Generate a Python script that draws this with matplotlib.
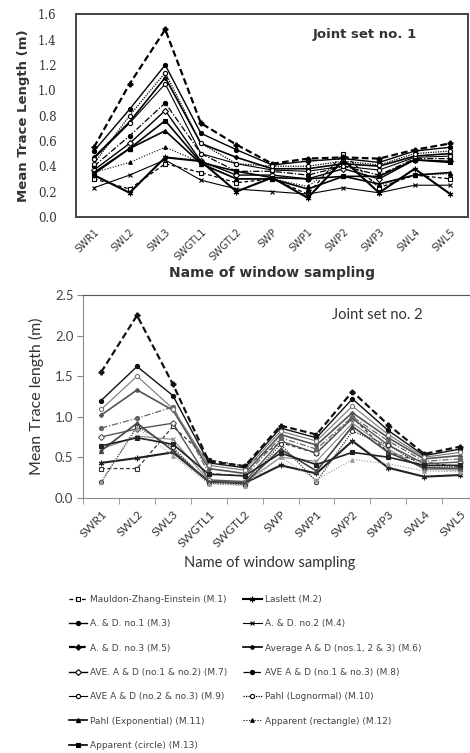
import numpy as np
import matplotlib
matplotlib.use("Agg")
import matplotlib.pyplot as plt
from matplotlib.lines import Line2D

# ---------- Datos ----------
windows = ["SWR1", "SWL2", "SWL3", "SWGTL1", "SWGTL2", "SWP", "SWP1",
           "SWP2", "SWP3", "SWL4", "SWL5"]

labels = ["Mauldon-Zhang-Einstein (M.1)", "Laslett (M.2)", "A. & D. no.1 (M.3)",
          "A. & D. no.2 (M.4)", "A. & D. no.3 (M.5)", "Average A & D (nos.1, 2 & 3) (M.6)",
          "AVE. A & D (no.1 & no.2) (M.7)", "AVE A & D (no.1 & no.3) (M.8)",
          "AVE A & D (no.2 & no.3) (M.9)", "Pahl (Lognormal) (M.10)",
          "Pahl (Exponential) (M.11)", "Apparent (rectangle) (M.12)",
          "Apparent (circle) (M.13)"]

# Joint set no. 1
set1_m1 = [0.30, 0.22, 0.42, 0.35, 0.27, 0.30, 0.18, 0.50, 0.23, 0.33, 0.30]
set1_m2 = [0.33, 0.19, 0.47, 0.44, 0.20, 0.31, 0.15, 0.45, 0.19, 0.38, 0.18]
set1_m3 = [0.52, 0.85, 1.20, 0.66, 0.53, 0.41, 0.44, 0.46, 0.43, 0.52, 0.55]
set1_m4 = [0.23, 0.33, 0.45, 0.29, 0.22, 0.20, 0.18, 0.23, 0.19, 0.25, 0.25]
set1_m5 = [0.55, 1.05, 1.48, 0.74, 0.57, 0.42, 0.46, 0.47, 0.46, 0.53, 0.58]
set1_m6 = [0.47, 0.75, 1.10, 0.58, 0.47, 0.38, 0.38, 0.42, 0.40, 0.48, 0.50]
set1_m7 = [0.37, 0.58, 0.84, 0.44, 0.33, 0.33, 0.30, 0.38, 0.30, 0.45, 0.44]
set1_m8 = [0.40, 0.64, 0.90, 0.50, 0.36, 0.36, 0.33, 0.40, 0.33, 0.46, 0.46]
set1_m9 = [0.46, 0.74, 1.05, 0.50, 0.42, 0.37, 0.36, 0.40, 0.37, 0.47, 0.48]
set1_m10 = [0.42, 0.80, 1.14, 0.58, 0.42, 0.40, 0.40, 0.44, 0.41, 0.50, 0.52]
set1_m11 = [0.34, 0.54, 0.68, 0.42, 0.30, 0.30, 0.22, 0.32, 0.26, 0.33, 0.35]
set1_m12 = [0.35, 0.43, 0.55, 0.43, 0.30, 0.30, 0.24, 0.44, 0.25, 0.33, 0.34]
set1_m13 = [0.35, 0.54, 0.76, 0.43, 0.36, 0.31, 0.30, 0.32, 0.32, 0.45, 0.43]

# Joint set no. 2
set2_m1 = [0.36, 0.36, 0.88, 0.47, 0.39, 0.68, 0.55, 0.99, 0.56, 0.44, 0.38]
set2_m2 = [0.43, 0.49, 0.56, 0.20, 0.18, 0.40, 0.30, 0.70, 0.37, 0.26, 0.28]
set2_m3 = [1.20, 1.62, 1.26, 0.43, 0.37, 0.86, 0.74, 1.22, 0.83, 0.52, 0.60]
set2_m4 = [0.60, 0.76, 0.72, 0.21, 0.19, 0.50, 0.45, 0.92, 0.60, 0.35, 0.34]
set2_m5 = [1.55, 2.25, 1.40, 0.45, 0.39, 0.89, 0.78, 1.31, 0.90, 0.54, 0.63]
set2_m6 = [1.02, 1.33, 1.08, 0.36, 0.30, 0.78, 0.65, 1.05, 0.74, 0.48, 0.52]
set2_m7 = [0.75, 0.85, 0.92, 0.22, 0.20, 0.70, 0.55, 0.98, 0.65, 0.42, 0.44]
set2_m8 = [0.86, 0.98, 1.12, 0.30, 0.27, 0.74, 0.60, 1.00, 0.70, 0.45, 0.48]
set2_m9 = [1.09, 1.50, 1.10, 0.40, 0.34, 0.82, 0.70, 1.13, 0.78, 0.50, 0.56]
set2_m10 = [0.19, 0.88, 0.62, 0.18, 0.16, 0.66, 0.20, 0.82, 0.65, 0.38, 0.38]
set2_m11 = [0.58, 0.92, 0.58, 0.20, 0.18, 0.60, 0.33, 0.88, 0.56, 0.37, 0.36]
set2_m12 = [0.19, 0.86, 0.52, 0.17, 0.15, 0.50, 0.22, 0.47, 0.42, 0.33, 0.32]
set2_m13 = [0.64, 0.74, 0.66, 0.29, 0.27, 0.55, 0.41, 0.56, 0.50, 0.40, 0.40]

set1 = [set1_m1, set1_m2, set1_m3, set1_m4, set1_m5, set1_m6, set1_m7,
        set1_m8, set1_m9, set1_m10, set1_m11, set1_m12, set1_m13]
set2 = [set2_m1, set2_m2, set2_m3, set2_m4, set2_m5, set2_m6, set2_m7,
        set2_m8, set2_m9, set2_m10, set2_m11, set2_m12, set2_m13]

# estilo de cada metodo: (linestyle, marker, markerfacecolor, lw, ms)
styles = [
    ((0, (3, 2)), "s", "white", 0.9, 3.5),
    ("-", (6, 2, 0), "black", 1.5, 4),
    ("-", "o", "black", 1.0, 3),
    ("-", "x", "black", 0.8, 3),
    ((0, (3, 1.5)), "P", "black", 1.6, 3.5),
    ("-", "D", "black", 1.2, 2.2),
    ("-", "D", "white", 1.0, 3),
    ((0, (5, 1.5, 1, 1.5)), "o", "black", 0.9, 3),
    ("-", "o", "white", 0.8, 3),
    ((0, (1, 1)), "o", "white", 0.9, 3),
    ("-", "^", "black", 1.2, 3),
    ((0, (1, 1.5)), "^", "black", 0.8, 2.6),
    ("-", "s", "black", 1.2, 3),
]
colors2 = ["#333333", "#222222", "#111111", "#888888", "#111111", "#555555",
           "#555555", "#666666", "#777777", "#333333", "#444444", "#999999", "#222222"]

x = np.arange(len(windows))
fig = plt.figure(figsize=(4.7, 7.53), dpi=100)

# ---------- Joint set no. 1 ----------
ax1 = fig.add_axes([0.162, 0.712, 0.834, 0.269])
for vals, (ls, mk, mfc, lw, ms) in zip(set1, styles):
    ax1.plot(x, vals, color="black", ls=ls, lw=lw, marker=mk, ms=ms,
             mfc=mfc, mec="black", mew=0.8)
ax1.set_xlim(-0.5, len(windows) - 0.5)
ax1.set_ylim(0, 1.6)
ax1.set_yticks(np.arange(0, 1.61, 0.2))
ax1.set_yticklabels([f"{v:.1f}" for v in np.arange(0, 1.61, 0.2)],
                    family="DejaVu Serif", fontsize=8.5, color="#333333")
ax1.set_xticks(x)
ax1.set_xticklabels(windows, rotation=45, ha="right", rotation_mode="anchor",
                    fontsize=7, color="#333333")
ax1.tick_params(axis="y", length=0, pad=14)
ax1.tick_params(axis="x", length=0, pad=7)
for s in ax1.spines.values():
    s.set_linewidth(1.4)
    s.set_color("#444444")
ax1.set_ylabel("Mean Trace Length (m)", fontsize=9.5, fontweight="bold",
               color="#333333", labelpad=6)
ax1.set_xlabel("Name of window sampling", fontsize=10, fontweight="bold",
               color="#333333", labelpad=3)
ax1.text(0.87, 0.9, "Joint set no. 1", transform=ax1.transAxes, ha="right",
         va="center", fontsize=9.5, fontweight="bold", color="#333333")

# ---------- Joint set no. 2 ----------
ax2 = fig.add_axes([0.177, 0.339, 0.84, 0.269])
for vals, (ls, mk, mfc, lw, ms), c in zip(set2, styles, colors2):
    ax2.plot(x, vals, color=c, ls=ls, lw=lw, marker=mk, ms=ms,
             mfc=(mfc if mfc == "white" else c), mec=c, mew=0.8)
ax2.set_xlim(-0.5, len(windows) - 0.5)
ax2.set_ylim(0, 2.5)
ax2.set_yticks(np.arange(0, 2.51, 0.5))
ax2.set_yticklabels([f"{v:.1f}" for v in np.arange(0, 2.51, 0.5)],
                    family="Lato", fontsize=9.5, color="#444444")
ax2.set_xticks(x)
ax2.set_xticklabels(windows, rotation=45, ha="right", rotation_mode="anchor",
                    family="Lato", fontsize=8.5, color="#333333")
ax2.set_xticks(np.arange(-0.5, len(windows), 1), minor=True)
ax2.tick_params(axis="x", which="major", length=0, pad=8)
ax2.tick_params(axis="x", which="minor", length=4, color="#888888")
ax2.tick_params(axis="y", length=4, color="#888888", pad=3)
ax2.spines["right"].set_visible(False)
for k in ("left", "bottom"):
    ax2.spines[k].set_color("#888888")
ax2.spines["top"].set_color("#555555")
ax2.set_ylabel("Mean Trace length (m)", family="Lato", fontsize=11.5,
               color="#333333", labelpad=8)
ax2.set_xlabel("Name of window sampling", family="Lato", fontsize=10.5,
               color="#333333", labelpad=4)
ax2.xaxis.set_label_coords(0.473, -0.29)
ax2.text(0.86, 0.9, "Joint set no. 2", transform=ax2.transAxes, ha="right",
         va="center", family="Lato", fontsize=10.5, color="#333333")

# ---------- Leyenda en dos columnas ----------
handles = []
for (ls, mk, mfc, lw, ms) in styles:
    handles.append(Line2D([], [], color="black", ls=ls, lw=lw, marker=mk,
                          ms=ms, mfc=mfc, mec="black", mew=0.8))
col1 = [0, 2, 4, 6, 8, 10, 12]
col2 = [1, 3, 5, 7, 9, 11]
for idx, xpos in ((col1, 0.146), (col2, 0.518)):
    leg = fig.legend([handles[i] for i in idx], [labels[i] for i in idx],
                     loc="upper left", bbox_to_anchor=(xpos, 0.210),
                     frameon=False, fontsize=6.5, handlelength=2.0,
                     handletextpad=0.4, labelspacing=1.70, borderaxespad=0,
                     borderpad=0)
    for t in leg.get_texts():
        t.set_color("#444444")

fig.savefig("out.png", dpi=100)
